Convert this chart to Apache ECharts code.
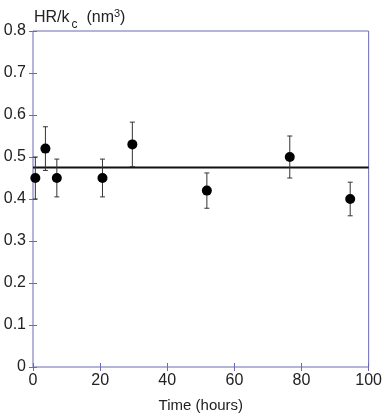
<!DOCTYPE html>
<html><head><meta charset="utf-8">
<script src="https://cdn.jsdelivr.net/npm/echarts@6/dist/echarts.min.js"></script>
<style>html,body{margin:0;padding:0;background:#fff}#c{width:385px;height:418px}</style>
</head><body><div id="c"></div>
<script>
var times = [0.7, 3.7, 7.1, 20.7, 29.6, 51.8, 76.5, 94.5];
var values = [0.45, 0.52, 0.45, 0.45, 0.53, 0.42, 0.50, 0.40];
var errors = [0.05, 0.052, 0.045, 0.045, 0.053, 0.042, 0.05, 0.04];
var fitValue = 0.475;
var xTicks = [0, 20, 40, 60, 80, 100];
var yTicks = [0, 0.1, 0.2, 0.3, 0.4, 0.5, 0.6, 0.7, 0.8];

var chart = echarts.init(document.getElementById('c'), null, {renderer: 'canvas'});
var axisColor = '#6a6ab8';
var font = 'Liberation Sans, Arial, sans-serif';
var pts = times.map(function (t, i) { return [t, values[i]]; });
var errData = times.map(function (t, i) { return [t, values[i] - errors[i], values[i] + errors[i]]; });

function axisCommon(extra) {
  return Object.assign({
    axisLine: {show: false},
    axisTick: {show: true, inside: true, length: 4, lineStyle: {color: axisColor}},
    splitLine: {show: false}
  }, extra);
}

chart.setOption({
  animation: false,
  backgroundColor: '#fff',
  grid: {left: 33, right: 13, top: 31, bottom: 49, show: true, borderColor: axisColor, borderWidth: 1, backgroundColor: 'transparent'},
  xAxis: [
    axisCommon({type: 'value', min: 0, max: 100, interval: 20,
      name: 'Time (hours)', nameLocation: 'middle', nameGap: 31,
      nameTextStyle: {color: '#222', fontSize: 15, fontFamily: font},
      axisLabel: {color: '#222', fontSize: 16, fontFamily: font, margin: 6,
        formatter: function (v) { return xTicks.indexOf(v) >= 0 ? String(v) : ''; }}}),
    axisCommon({type: 'value', min: 0, max: 100, interval: 20, position: 'top',
      axisLabel: {show: false}})
  ],
  yAxis: [
    axisCommon({type: 'value', min: 0, max: 0.8, interval: 0.1,
      axisLabel: {color: '#222', fontSize: 16, fontFamily: font, margin: 7,
        formatter: function (v) {
          var r = Math.round(v * 10) / 10;
          return r === 0 ? '0' : String(r);
        }}}),
    axisCommon({type: 'value', min: 0, max: 0.8, interval: 0.1, position: 'right',
      axisLabel: {show: false}})
  ],
  graphic: [{
    type: 'text', left: 34, top: 6,
    style: {
      text: '{a|HR/k}{s|c}{a|  (nm}{p|3}{a|)}',
      rich: {
        a: {fontSize: 16, fontFamily: font, fill: '#222', verticalAlign: 'bottom', lineHeight: 20},
        s: {fontSize: 12, fontFamily: font, fill: '#222', verticalAlign: 'bottom', lineHeight: 12, padding: [0, 0, -5, 2]},
        p: {fontSize: 11, fontFamily: font, fill: '#222', verticalAlign: 'top', lineHeight: 12, padding: [2, 0, 0, 0]}
      }
    }
  }],
  series: [
    {
      type: 'line', data: [[0, fitValue], [100, fitValue]], symbol: 'none',
      lineStyle: {color: '#111', width: 2}, silent: true, z: 2
    },
    {
      type: 'custom', data: errData, z: 3,
      renderItem: function (params, api) {
        var x = api.value(0);
        var lo = api.coord([x, api.value(1)]);
        var hi = api.coord([x, api.value(2)]);
        var cap = 2.5;
        var st = {stroke: '#333', lineWidth: 1};
        return {type: 'group', children: [
          {type: 'line', shape: {x1: lo[0], y1: lo[1], x2: hi[0], y2: hi[1]}, style: st},
          {type: 'line', shape: {x1: lo[0] - cap, y1: lo[1], x2: lo[0] + cap, y2: lo[1]}, style: st},
          {type: 'line', shape: {x1: hi[0] - cap, y1: hi[1], x2: hi[0] + cap, y2: hi[1]}, style: st}
        ]};
      }
    },
    {
      type: 'scatter', data: pts, symbol: 'circle', symbolSize: 10,
      itemStyle: {color: '#000', opacity: 1}, z: 4
    }
  ]
});
</script></body></html>
